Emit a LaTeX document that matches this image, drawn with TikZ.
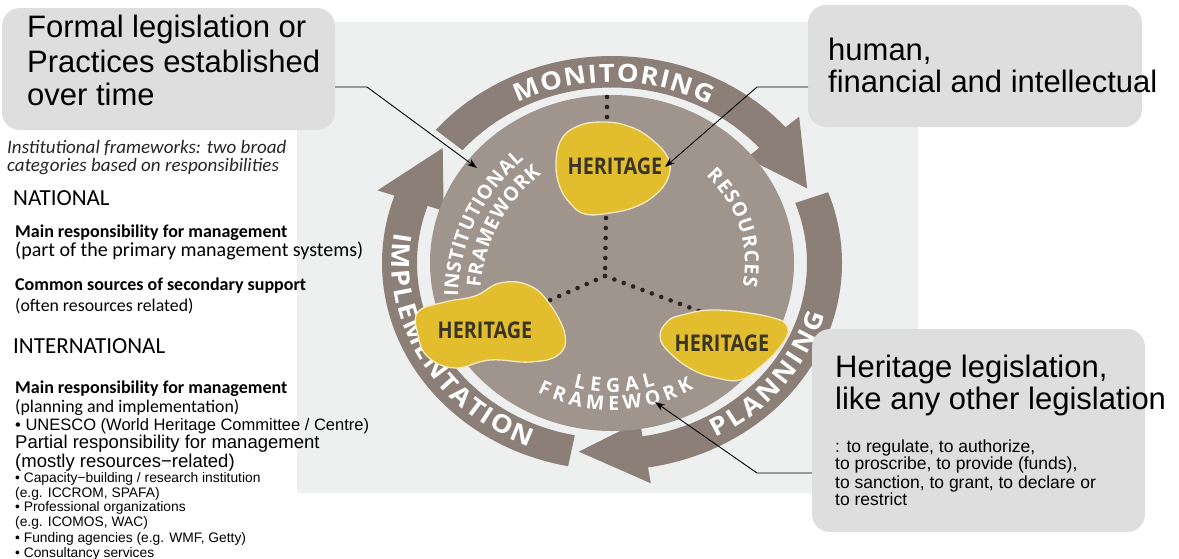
\documentclass[tikz,border=0pt]{standalone}
\usepackage{fontspec}
\setmainfont{Carlito}
\newfontfamily\arl{Liberation Sans}
\newfontfamily\osf{Open Sans}
\newfontfamily\ringf[FakeStretch=1.1]{Open Sans}
\newfontfamily\herf[FakeStretch=0.86]{Open Sans}
\usetikzlibrary{decorations.text,arrows.meta}
\definecolor{panelc}{HTML}{EEEFEF}
\definecolor{boxc}{HTML}{DEDEDE}
\definecolor{ringc}{HTML}{8B7F77}
\definecolor{diskc}{HTML}{A0958D}
\definecolor{blobc}{HTML}{E2BE2E}
\definecolor{blobedge}{HTML}{F4E9BF}
\definecolor{hertext}{HTML}{3A3424}
\definecolor{dotc}{HTML}{2A2520}
\tikzset{
  lt/.style={anchor=base west, inner sep=0pt, text=black},
  boldl/.style={font=\bfseries\fontsize{18}{20}\selectfont},
  regl/.style={font=\fontsize{17.8}{20}\selectfont},
  headl/.style={font=\fontsize{23}{25}\selectfont},
  gothl/.style={font=\arl\fontsize{18.5}{20}\selectfont},
  smalll/.style={font=\arl\fontsize{13.8}{15}\selectfont},
  callbox/.style={fill=boxc, rounded corners=18pt, draw=none},
  bigc/.style={anchor=base west, inner sep=0pt, font=\arl\fontsize{31}{33}\selectfont},
  smallc/.style={anchor=base west, inner sep=0pt, font=\arl\fontsize{17.5}{19}\selectfont},
  blob/.style={fill=blobc, draw=blobedge, line width=1.3pt},
  herlab/.style={font=\herf\bfseries\fontsize{23}{23}\selectfont, text=hertext, inner sep=0pt},
  dotl/.style={draw=dotc, line width=4.6pt, line cap=round, dash pattern=on 0pt off 10pt},
  callline/.style={draw=black, line width=0.9pt, -{Stealth[length=10pt,width=7pt]}},
  ringtext/.style={decorate, decoration={text along path, text align={fit to path}, text color=white,
      text={|\ringf\bfseries\fontsize{25}{25}\selectfont|#1}}},
  disktext/.style={decorate, decoration={text along path, text align={fit to path}, text color=white,
      text={|\osf\bfseries\fontsize{19.5}{19.5}\selectfont|#1}}}
}
\begin{document}
\begin{tikzpicture}[x=1pt,y=-1pt]
\useasboundingbox (0,0) rectangle (1179,558);
\fill[white] (0,0) rectangle (1179,558);
% panel
\fill[panelc] (297,22) rectangle (918,493);

% ring arrows
\begin{scope}[shift={(612,263)}]
  % MONITORING
  \fill[ringc] (140:230pt and 207pt) arc[start angle=140, end angle=41, x radius=230pt, y radius=207pt]
     -- (41:248pt and 223pt) -- (23:212pt and 191pt) -- (41:178pt and 160pt)
     -- (41:195pt and 175.5pt) arc[start angle=41, end angle=140, x radius=195pt, y radius=175.5pt] -- cycle;
  % PLANNING
  \fill[ringc] (20:230pt and 207pt) arc[start angle=20, end angle=-81, x radius=230pt, y radius=207pt]
     -- (-81:248pt and 223pt) -- (-99:212pt and 191pt) -- (-81:178pt and 160pt)
     -- (-81:195pt and 175.5pt) arc[start angle=-81, end angle=20, x radius=195pt, y radius=175.5pt] -- cycle;
  % IMPLEMENTATION
  \fill[ringc] (259:230pt and 207pt) arc[start angle=259, end angle=161, x radius=230pt, y radius=207pt]
     -- (161:248pt and 223pt) -- (143:212pt and 191pt) -- (161:178pt and 160pt)
     -- (161:195pt and 175.5pt) arc[start angle=161, end angle=259, x radius=195pt, y radius=175.5pt] -- cycle;
  % ring texts
  \path[ringtext=MONITORING] (118:201pt and 181pt) arc[start angle=118, end angle=61, x radius=201pt, y radius=181pt];
  \path[ringtext=PLANNING] (-62:220pt and 198pt) arc[start angle=-62, end angle=-15, x radius=220pt, y radius=198pt];
  \path[ringtext=IMPLEMENTATION] (171:220pt and 198pt) arc[start angle=171, end angle=248, x radius=220pt, y radius=198pt];
\end{scope}

% inner disk
\fill[diskc] (612,263) ellipse[x radius=182pt, y radius=168pt];

% dotted links
\coordinate (jn) at (605,276);
\coordinate (dtop) at (607,97);
\coordinate (dtopb) at (607,118);
\coordinate (dmid) at (606,218);
\coordinate (dleft) at (548,301);
\coordinate (dright) at (699,311);
\draw[dotl] (dtop) -- (dtopb);
\draw[dotl] (dmid) -- (jn);
\draw[dotl] (jn) -- (dleft);
\draw[dotl] (jn) -- (dright);

% heritage blobs
\filldraw[blob] plot[smooth cycle, tension=0.7] coordinates {(556,165) (561,140) (578,126) (603,122) (628,126) (650,138) (668,158) (668,178) (655,195) (635,207) (610,213) (585,214) (570,203) (560,187)};
\filldraw[blob] plot[smooth cycle, tension=0.7] coordinates {(418,312) (445,302) (475,296) (500,283) (528,285) (549,303) (565,335) (558,355) (530,362) (490,360) (455,368) (428,357) (418,335)};
\filldraw[blob] plot[smooth cycle, tension=0.7] coordinates {(667,322) (682,315) (717,310) (770,317) (788,328) (780,347) (760,367) (740,380) (717,378) (693,370) (670,353) (660,337)};
\node[herlab] (h1) at (615,166) {HERITAGE};
\node[herlab] (h2) at (485,330) {HERITAGE};
\node[herlab] (h3) at (722,343) {HERITAGE};

% inner disk texts
\begin{scope}[shift={(640,300)}]
  \path[disktext=INSTITUTIONAL] (179:182pt) arc[start angle=179, end angle=129.5, radius=182pt];
  \path[disktext=FRAMEWORK] (175.5:160pt) arc[start angle=175.5, end angle=128, radius=160pt];
\end{scope}
\begin{scope}[shift={(612,263)}]
  \path[disktext=RESOURCES] (45:133pt and 123pt) arc[start angle=45, end angle=-11, x radius=133pt, y radius=123pt];
  \path[disktext=LEGAL] (-106:140pt and 129pt) arc[start angle=-106, end angle=-72, x radius=140pt, y radius=129pt];
  \path[disktext=FRAMEWORK] (-118:159pt and 147pt) arc[start angle=-118, end angle=-59, x radius=159pt, y radius=147pt];
\end{scope}

% callout boxes
\fill[callbox] (2,8) rectangle (335,130);
\fill[callbox] (808,5) rectangle (1142,127);
\fill[callbox] (812,329) rectangle (1145,532);
\node[bigc] (c1a) at (27,37) {Formal legislation or};
\node[bigc] (c1b) at (27,72) {Practices established};
\node[bigc] (c1c) at (27,105) {over time};
\node[bigc] (c2a) at (828,60) {human,};
\node[bigc] (c2b) at (828,92) {financial and intellectual};
\node[bigc] (c3a) at (835,377) {Heritage legislation,};
\node[bigc] (c3b) at (835,409) {like any other legislation};
\node[smallc] (c3c) at (835,452) {: to regulate, to authorize,};
\node[smallc] (c3d) at (835,469) {to proscribe, to provide (funds),};
\node[smallc] (c3e) at (835,488) {to sanction, to grant, to declare or};
\node[smallc] (c3f) at (835,505) {to restrict};

% connectors
\coordinate (b1) at (335,87); \coordinate (k1) at (367,87); \coordinate (t1) at (477,168);
\coordinate (b2) at (808,87); \coordinate (k2) at (757,87); \coordinate (t2) at (665,167);
\coordinate (b3) at (812,473); \coordinate (k3) at (757,473); \coordinate (t3) at (655,402);
\draw[callline] (b1) -- (k1) -- (t1);
\draw[callline] (b2) -- (k2) -- (t2);
\draw[callline] (b3) -- (k3) -- (t3);

% left text
\node[lt, font=\itshape\fontsize{19}{20}\selectfont, text=black!85] (l1) at (7,153) {Institutional frameworks: two broad};
\node[lt, font=\itshape\fontsize{19}{20}\selectfont, text=black!85] (l2) at (7,171) {categories based on responsibilities};
\node[lt, headl] (nat) at (13,205) {NATIONAL};
\node[lt, boldl] (n1) at (15,237) {Main responsibility for management};
\node[lt, font=\fontsize{20}{22}\selectfont] (n2) at (15,256) {(part of the primary management systems)};
\node[lt, boldl] (n3) at (15,290) {Common sources of secondary support};
\node[lt, regl] (n4) at (15,311) {(often resources related)};
\node[lt, headl] (int) at (13,353) {INTERNATIONAL};
\node[lt, boldl] (i1) at (15,393) {Main responsibility for management};
\node[lt, regl] (i2) at (15,412) {(planning and implementation)};
\node[lt, font=\arl\fontsize{16.5}{18}\selectfont] (i3) at (15,430) {• UNESCO (World Heritage Committee / Centre)};
\node[lt, gothl] (i4) at (15,448) {Partial responsibility for management};
\node[lt, gothl] (i5) at (15,467) {(mostly resources−related)};
\node[lt, smalll] (i6) at (15,482) {• Capacity−building / research institution};
\node[lt, smalll] (i7) at (15,497) {(e.g. ICCROM, SPAFA)};
\node[lt, smalll] (i8) at (15,511) {• Professional organizations};
\node[lt, smalll] (i9) at (15,526) {(e.g. ICOMOS, WAC)};
\node[lt, smalll] (i10) at (15,542) {• Funding agencies (e.g. WMF, Getty)};
\node[lt, smalll] (i11) at (15,557) {• Consultancy services};
\end{tikzpicture}
\end{document}
